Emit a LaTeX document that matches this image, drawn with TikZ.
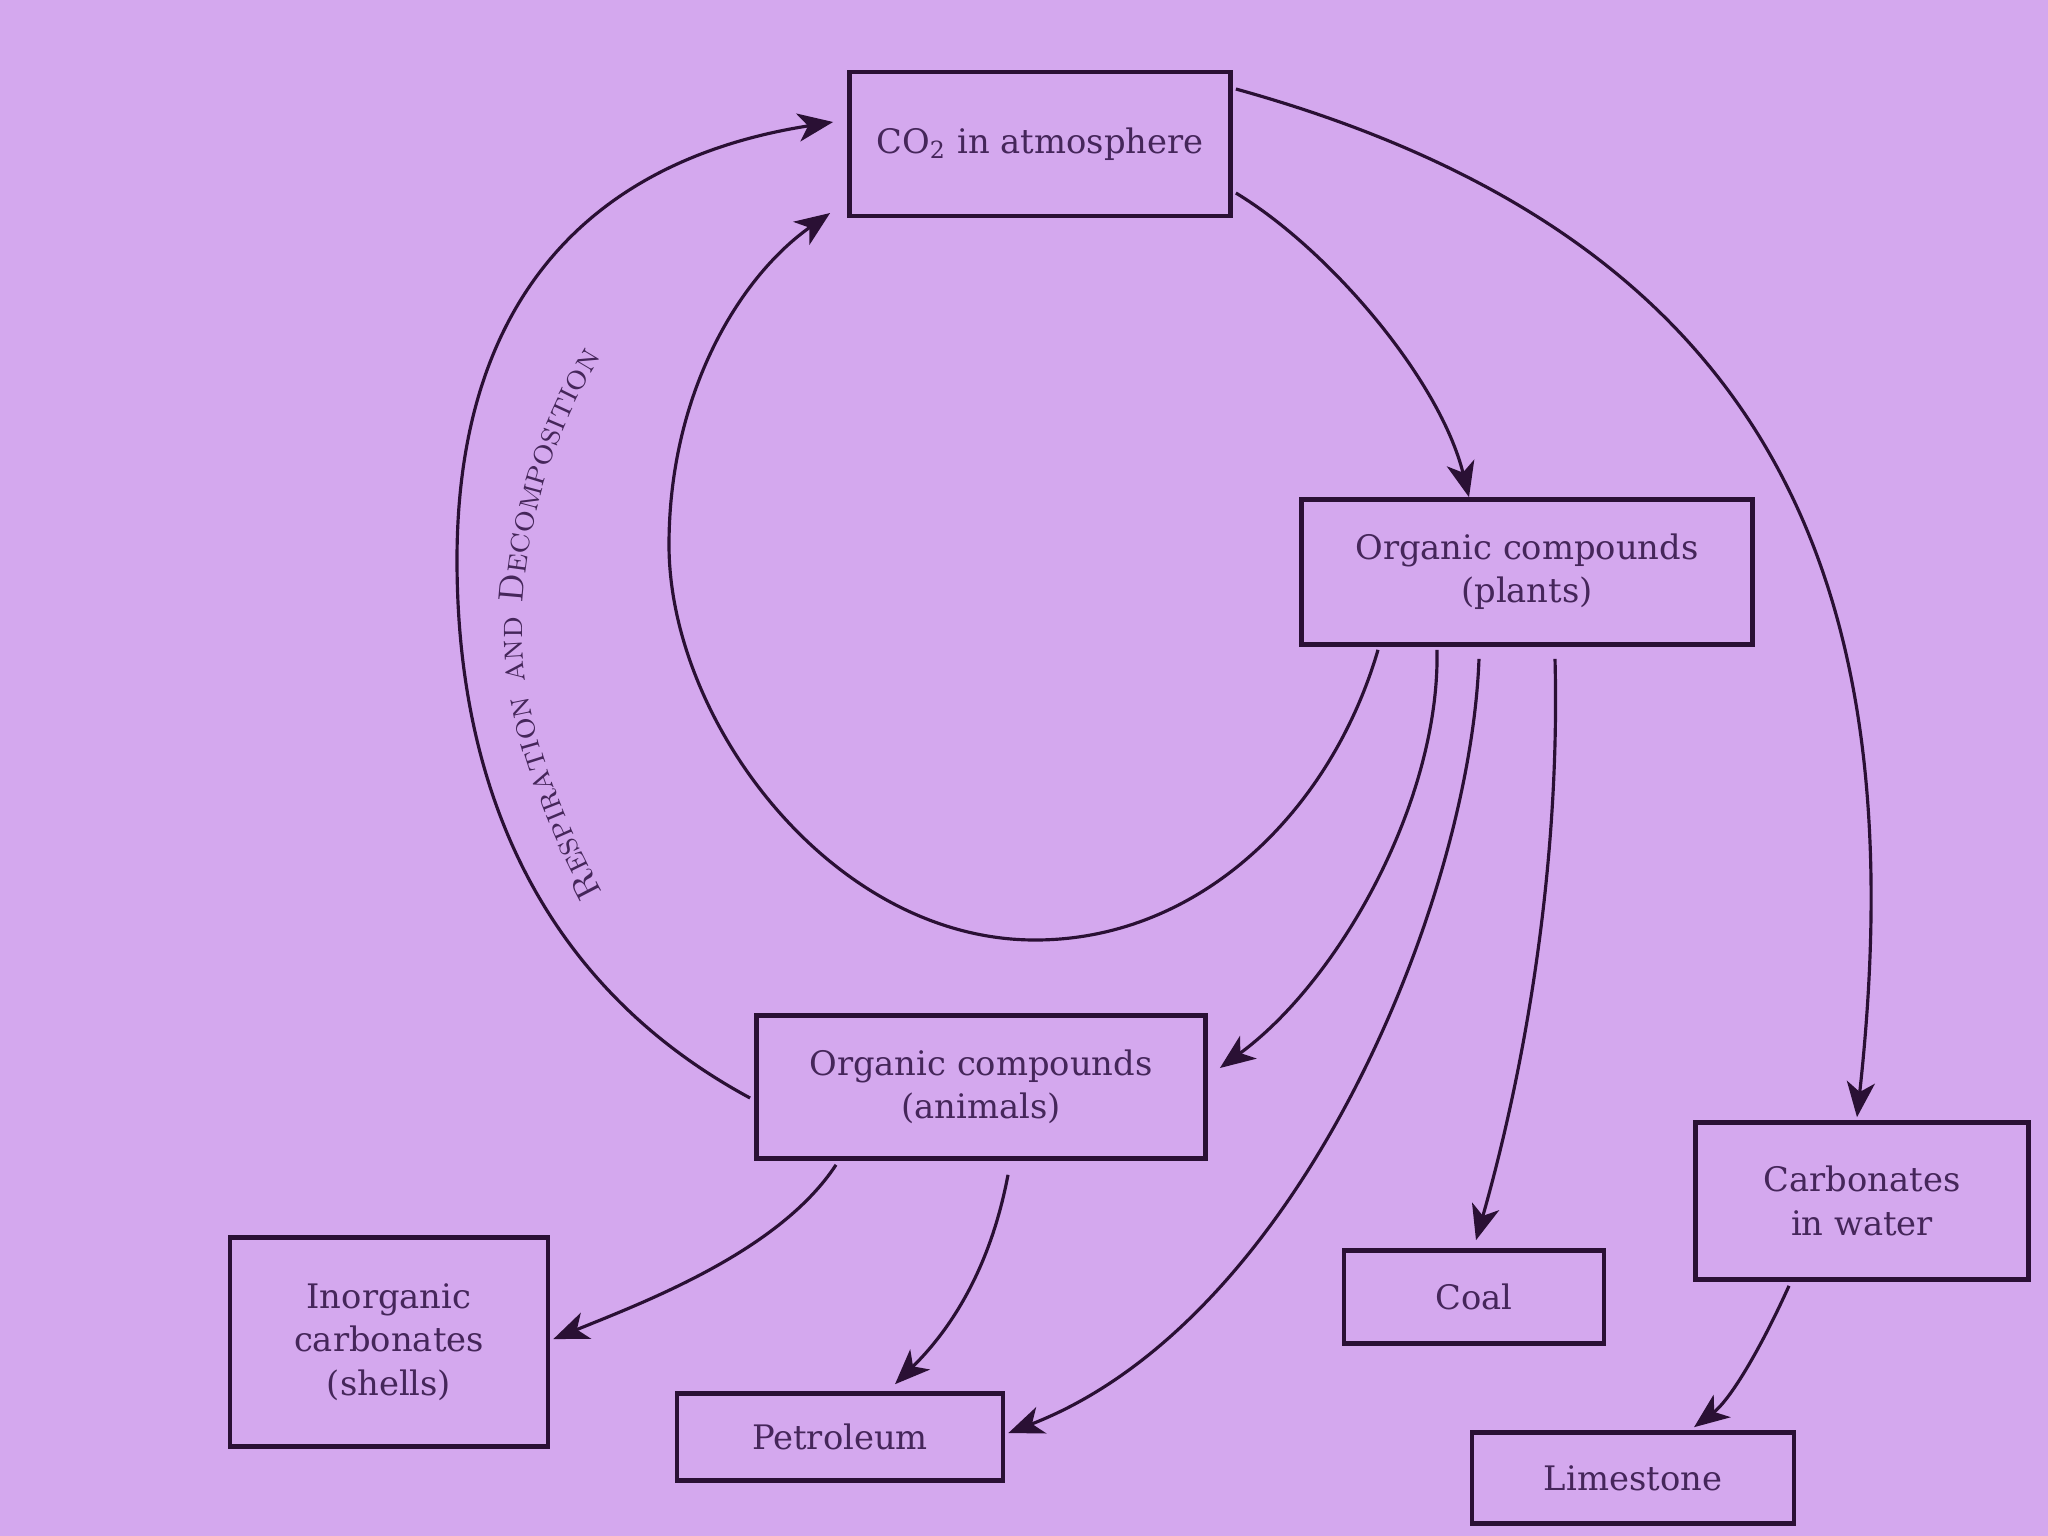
\documentclass[tikz,border=0pt]{standalone}
\usepackage{fontspec}
\newfontfamily\boxfont{DejaVu Serif}
\usetikzlibrary{arrows.meta,calc,decorations.text}
\definecolor{bgc}{HTML}{D4A8EE}
\definecolor{linec}{HTML}{2A1034}
\definecolor{textc}{HTML}{45265A}
\begin{document}
\begin{tikzpicture}[x=0.01cm,y=-0.01cm,
  box/.style={draw=linec,line width=1.3pt,align=center,inner sep=0pt,text=textc,
    font=\boxfont\fontsize{9.6}{12.3}\selectfont},
  flow/.style={draw=linec,line width=0.9pt,-{Stealth[length=10pt,width=8pt,inset=2.8pt]}}]
\fill[bgc] (0,0) rectangle (2048,1536);
\useasboundingbox (0,0) rectangle (2048,1536);

\node[box,minimum width=3.81cm,minimum height=1.44cm] (co2) at (1040,144) {CO\textsubscript{2} in atmosphere};
\node[box,minimum width=4.51cm,minimum height=1.45cm] (plants) at (1527,572) {Organic compounds\\(plants)};
\node[box,minimum width=4.49cm,minimum height=1.43cm] (animals) at (981,1087) {Organic compounds\\(animals)};
\node[box,minimum width=3.18cm,minimum height=2.09cm] (inorg) at (389,1342) {Inorganic\\carbonates\\(shells)};
\node[box,minimum width=3.26cm,minimum height=0.87cm] (petrol) at (840,1437) {Petroleum};
\node[box,minimum width=2.60cm,minimum height=0.93cm] (coal) at (1474,1297) {Coal};
\node[box,minimum width=3.33cm,minimum height=1.57cm] (carb) at (1862,1201) {Carbonates\\in water};
\node[box,minimum width=3.22cm,minimum height=0.91cm] (lime) at (1633,1478) {Limestone};

% CO2 -> plants
\draw[flow] ($(co2.east)+(3,49)$) .. controls (1330,250) and (1440,380) .. ($(plants.north)+(-58,0)$);
% CO2 -> carbonates in water
\draw[flow] ($(co2.east)+(3,-55)$) .. controls (1780,240) and (1915,590) .. ($(carb.north)+(-5,-3)$);
% plants -> CO2 (inner loop)
\draw[flow] ($(plants.south)+(-149,3)$) .. controls (1331,811) and (1200,940) .. (1035,940)
  .. controls (832,940) and (669,721) .. (669,545)
  .. controls (669,395) and (738,278) .. ($(co2.west)+(-17,69)$);
% animals -> CO2 (respiration and decomposition)
\draw[flow] ($(animals.west)+(-4,11)$) .. controls (550,990) and (457,800) .. (457,560)
  .. controls (457,300) and (590,160) .. ($(co2.west)+(-14,-22)$);
\path[decorate,decoration={text along path,text align=center,
  text={|\fontsize{10}{11}\selectfont\scshape\color{textc}|Respiration and Decomposition}}]
  (612,910) .. controls (545,790) and (522,700) .. (522,628) .. controls (522,540) and (550,430) .. (612,340);
% plants -> animals
\draw[flow] ($(plants.south)+(-90,3)$) .. controls (1440,800) and (1340,980) .. ($(animals.east)+(12,-19)$);
% plants -> petroleum
\draw[flow] ($(plants.south)+(-48,12)$) .. controls (1470,900) and (1300,1320) .. ($(petrol.east)+(3,-4)$);
% plants -> coal
\draw[flow] ($(plants.south)+(28,12)$) .. controls (1560,850) and (1530,1050) .. ($(coal.north)+(2,-8)$);
% animals -> inorganic carbonates
\draw[flow] ($(animals.south)+(-145,4)$) .. controls (780,1250) and (650,1300) .. ($(inorg.east)+(3,-3)$);
% animals -> petroleum
\draw[flow] ($(animals.south)+(27,14)$) .. controls (990,1270) and (950,1330) .. ($(petrol.north)+(55,-7)$);
% carbonates -> limestone
\draw[flow] ($(carb.south)+(-73,4)$) .. controls (1760,1350) and (1730,1400) .. ($(lime.north)+(61,-3)$);
\end{tikzpicture}
\end{document}
